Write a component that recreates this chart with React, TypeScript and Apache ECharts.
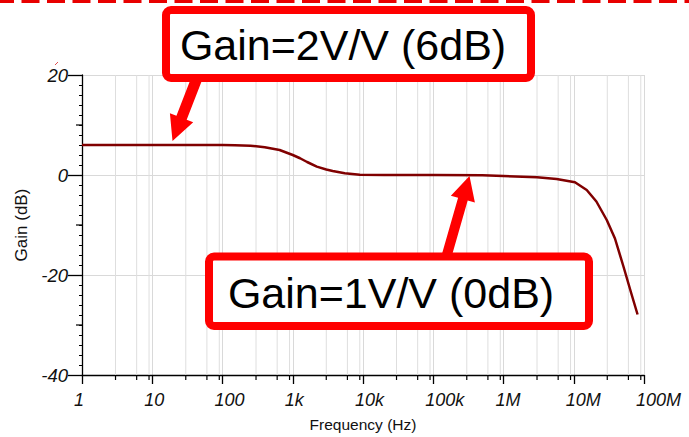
import React, { useEffect, useRef } from "react";
import * as echarts from "echarts";

// ---- data ----
const freqHz = [
  1, 10, 100, 150, 250, 400, 650, 1000, 1270, 1600, 2200, 3000, 3700, 5500, 9000,
  20000, 100000, 500000, 1000000, 3000000, 5700000, 10400000, 15300000, 21000000,
  29500000, 38600000, 51000000, 66000000, 81000000,
];
const gainDb = [
  6.02, 6.02, 6.0, 5.97, 5.86, 5.53, 5.0, 4.0, 3.35, 2.6, 1.67, 1.1, 0.8, 0.33, 0.05,
  0, 0, -0.05, -0.2, -0.46, -0.8, -1.46, -3.0, -5.3, -9.0, -12.7, -18.3, -23.7, -27.9,
];
const xTickValues = [1, 10, 100, 1000, 10000, 100000, 1000000, 10000000, 100000000];
const xTickLabels = ["1", "10", "100", "1k", "10k", "100k", "1M", "10M", "100M"];
const minorGridFreqs = [
  3, 6, 9, 30, 60, 90, 300, 600, 900, 3000, 6000, 9000, 30000, 60000, 90000,
  300000, 600000, 900000, 3000000, 6000000, 9000000, 30000000, 60000000, 90000000,
];
const yMin = -40;
const yMax = 20;
const yInterval = 20;
const midTickDb = [10, -10, -30];
const xAxisTitle = "Frequency (Hz)";
const yAxisTitle = "Gain (dB)";
const note1 = "Gain=2V/V (6dB)";
const note2 = "Gain=1V/V (0dB)";

const FONT = "'Liberation Sans', Arial, Helvetica, sans-serif";
const RED = "#ff0000";

function arrowPoints(
  sx: number, sy: number, tx: number, ty: number,
  shaftW: number, headW: number, headL: number
): number[][] {
  const dx = tx - sx;
  const dy = ty - sy;
  const len = Math.hypot(dx, dy);
  const ux = dx / len;
  const uy = dy / len;
  const nx = -uy;
  const ny = ux;
  const bx = tx - ux * headL;
  const by = ty - uy * headL;
  return [
    [sx + (nx * shaftW) / 2, sy + (ny * shaftW) / 2],
    [bx + (nx * shaftW) / 2, by + (ny * shaftW) / 2],
    [bx + (nx * headW) / 2, by + (ny * headW) / 2],
    [tx, ty],
    [bx - (nx * headW) / 2, by - (ny * headW) / 2],
    [bx - (nx * shaftW) / 2, by - (ny * shaftW) / 2],
    [sx - (nx * shaftW) / 2, sy - (ny * shaftW) / 2],
  ];
}

export default function App() {
  const ref = useRef<HTMLDivElement>(null);

  useEffect(() => {
    if (!ref.current) return;
    const chart = echarts.init(ref.current, undefined, { renderer: "svg" });

    const labelFor = (v: number) => {
      const i = xTickValues.findIndex(
        (t) => Math.abs(Math.log10(t) - Math.log10(v)) < 1e-6
      );
      return i >= 0 ? xTickLabels[i] : "";
    };

    const option: any = {
      animation: false,
      backgroundColor: "#ffffff",
      grid: { left: 82, right: 45, top: 75, bottom: 62, containLabel: false },
      xAxis: {
        type: "log",
        logBase: 10,
        min: 1,
        max: 100000000,
        splitNumber: 8,
        name: xAxisTitle,
        nameLocation: "middle",
        nameGap: 41,
        nameTextStyle: { fontFamily: FONT, fontSize: 15.5, color: "#111" },
        axisLine: { show: true, onZero: false, lineStyle: { color: "#000", width: 1.3 } },
        axisTick: { show: true, inside: false, length: 9, lineStyle: { color: "#000", width: 1.3 } },
        minorTick: { show: false },
        axisLabel: {
          show: true,
          formatter: labelFor,
          fontFamily: FONT,
          fontSize: 18,
          fontStyle: "italic",
          color: "#111",
          margin: 16,
          align: "left",
          padding: [0, 0, 0, -8],
        },
        splitLine: { show: true, lineStyle: { color: "#d9d9d9", width: 1 } },
      },
      yAxis: {
        type: "value",
        min: yMin,
        max: yMax,
        interval: yInterval,
        name: yAxisTitle,
        nameLocation: "middle",
        nameGap: 44,
        nameRotate: 90,
        nameTextStyle: { fontFamily: FONT, fontSize: 17, fontWeight: "normal", color: "#111" },
        axisLine: { show: true, lineStyle: { color: "#000", width: 1.3 } },
        axisTick: { show: true, inside: false, length: 14, lineStyle: { color: "#000", width: 1.3 } },
        minorTick: { show: true, splitNumber: 10, length: 3, lineStyle: { color: "#000", width: 1 } },
        axisLabel: {
          fontFamily: FONT,
          fontSize: 18.5,
          fontStyle: "italic",
          color: "#111",
          margin: 14,
        },
        splitLine: { show: true, lineStyle: { color: "#d9d9d9", width: 1 } },
      },
      series: [
        {
          type: "custom",
          name: "minorGrid",
          clip: false,
          silent: true,
          z: 1,
          encode: { x: 0, y: 1 },
          data: minorGridFreqs.map((f) => [f, yMin]),
          renderItem: (params: any, api: any) => {
            const f = api.value(0);
            const top = api.coord([f, yMax]);
            const bot = api.coord([f, yMin]);
            return {
              type: "group",
              children: [
                {
                  type: "line",
                  shape: { x1: top[0], y1: top[1], x2: bot[0], y2: bot[1] },
                  style: { stroke: "#dedede", lineWidth: 1 },
                },
                {
                  type: "line",
                  shape: { x1: bot[0], y1: bot[1], x2: bot[0], y2: bot[1] + 5 },
                  style: { stroke: "#000", lineWidth: 1.2 },
                },
              ],
            };
          },
        },
        {
          type: "custom",
          name: "midTicks",
          clip: false,
          silent: true,
          z: 3,
          encode: { x: 0, y: 1 },
          data: midTickDb.map((d) => [1, d]),
          renderItem: (params: any, api: any) => {
            const p = api.coord([api.value(0), api.value(1)]);
            return {
              type: "line",
              shape: { x1: p[0] - 6, y1: p[1], x2: p[0], y2: p[1] },
              style: { stroke: "#000", lineWidth: 1.2 },
            };
          },
        },
        {
          type: "line",
          name: "Gain",
          data: freqHz.map((f, i) => [f, gainDb[i]]),
          showSymbol: false,
          smooth: false,
          z: 5,
          lineStyle: { color: "#800000", width: 2.5 },
        },
      ],
      graphic: [
        {
          type: "line",
          z: 100,
          shape: { x1: -4, y1: 1.5, x2: 700, y2: 1.5 },
          style: { stroke: "#e80000", lineWidth: 3, lineDash: [18, 7.5] },
        },
        {
          type: "line",
          z: 100,
          shape: { x1: 55, y1: 65, x2: 58, y2: 62 },
          style: { stroke: "#e05050", lineWidth: 1 },
        },
        {
          type: "polygon",
          z: 100,
          shape: { points: arrowPoints(197, 78, 172.5, 141, 11, 25, 25) },
          style: { fill: RED },
        },
        {
          type: "polygon",
          z: 100,
          shape: { points: arrowPoints(446, 258, 469.5, 176, 10, 25, 24) },
          style: { fill: RED },
        },
        {
          type: "rect",
          z: 101,
          shape: { x: 166, y: 10, width: 365, height: 68, r: 5 },
          style: { fill: "#ffffff", stroke: RED, lineWidth: 8 },
        },
        {
          type: "text",
          z: 102,
          x: 343,
          y: 45,
          style: {
            text: note1,
            fontFamily: FONT,
            fontSize: 43,
            fill: "#000",
            align: "center",
            verticalAlign: "middle",
          },
        },
        {
          type: "rect",
          z: 101,
          shape: { x: 209, y: 256.5, width: 380, height: 69.5, r: 5 },
          style: { fill: "#ffffff", stroke: RED, lineWidth: 8 },
        },
        {
          type: "text",
          z: 102,
          x: 391,
          y: 293,
          style: {
            text: note2,
            fontFamily: FONT,
            fontSize: 43,
            fill: "#000",
            align: "center",
            verticalAlign: "middle",
          },
        },
      ],
    };

    chart.setOption(option);
    return () => {
      chart.dispose();
    };
  }, []);

  return (
    <div
      ref={ref}
      style={{ position: "fixed", left: 0, top: 0, width: 689, height: 437, background: "#fff" }}
    />
  );
}
